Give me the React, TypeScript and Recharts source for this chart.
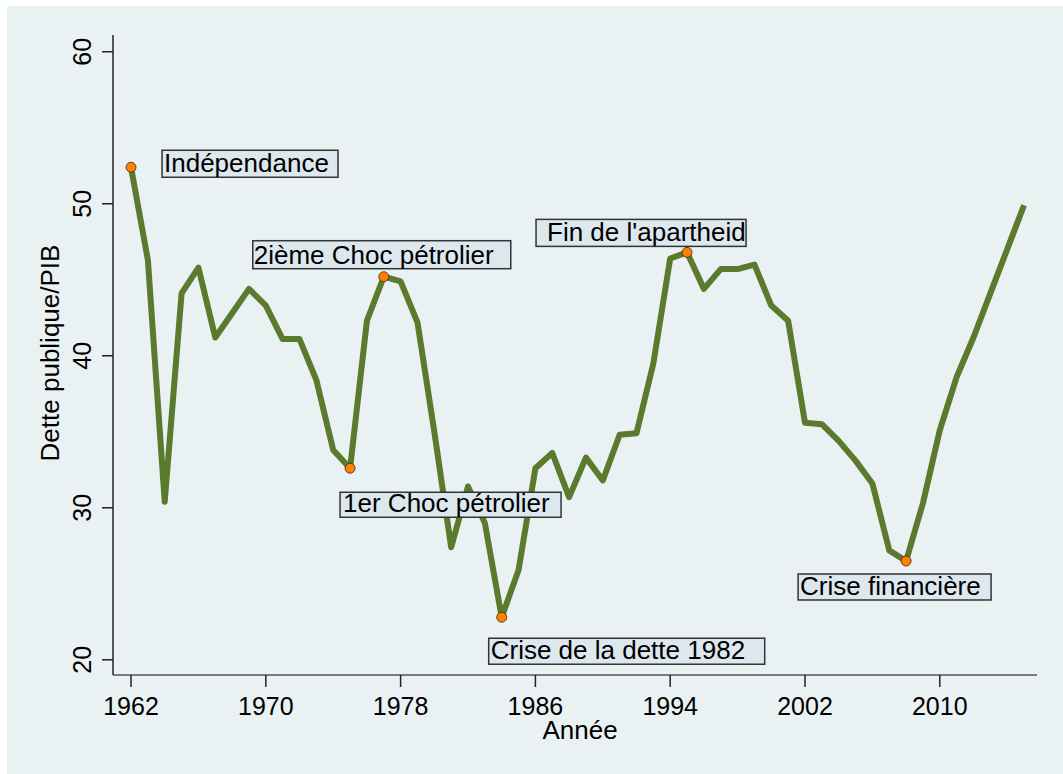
import React from 'react';
import { LineChart, Line, XAxis, YAxis, Label } from 'recharts';

// Dette publique / PIB, 1962-2015
const years = [
  1962, 1963, 1964, 1965, 1966, 1967, 1968, 1969, 1970, 1971,
  1972, 1973, 1974, 1975, 1976, 1977, 1978, 1979, 1980, 1981,
  1982, 1983, 1984, 1985, 1986, 1987, 1988, 1989, 1990, 1991,
  1992, 1993, 1994, 1995, 1996, 1997, 1998, 1999, 2000, 2001,
  2002, 2003, 2004, 2005, 2006, 2007, 2008, 2009, 2010, 2011,
  2012, 2013, 2014, 2015,
];
const debt = [
  52.4, 46.3, 30.4, 44.1, 45.8, 41.2, 42.8, 44.4, 43.3, 41.1,
  41.1, 38.4, 33.8, 32.6, 42.3, 45.2, 44.9, 42.2, 35.0, 27.4,
  31.4, 29.0, 22.8, 25.9, 32.6, 33.6, 30.7, 33.3, 31.8, 34.8,
  34.9, 39.5, 46.4, 46.8, 44.4, 45.7, 45.7, 46.0, 43.3, 42.3,
  35.6, 35.5, 34.4, 33.1, 31.6, 27.2, 26.5, 30.3, 35.1, 38.6,
  41.2, 44.1, 47.0, 49.9,
];
const eventYears = [1962, 1977, 1995, 1975, 1984, 2008];
const eventLabels = [
  'Indépendance',
  '2ième Choc pétrolier',
  "Fin de l'apartheid",
  '1er Choc pétrolier',
  'Crise de la dette 1982',
  'Crise financière',
];
const xTicks = [1962, 1970, 1978, 1986, 1994, 2002, 2010];
const yTicks = [20, 30, 40, 50, 60];

const data = years.map((y, i) => ({ year: y, debt: debt[i] }));

// where each label box sits relative to its marker
const boxLayout: Record<number, { dx: number; dy: number; w: number; h: number; tx: number }> = {
  1962: { dx: 31, dy: -17, w: 176, h: 27, tx: 2 },
  1977: { dx: -131, dy: -36, w: 258, h: 28, tx: 1 },
  1995: { dx: -151, dy: -33, w: 210, h: 27, tx: 11 },
  1975: { dx: -10, dy: 24, w: 221, h: 25, tx: 3 },
  1984: { dx: -13, dy: 21, w: 276, h: 26, tx: 2 },
  2008: { dx: -108, dy: 13, w: 193, h: 26, tx: 2 },
};

const FONT = '"Liberation Sans", Arial, Helvetica, sans-serif';
const BG = '#e9f1f3';
const GREEN = '#5a7a2e';

const EventDot = (props: any) => {
  const { cx, cy, payload, index } = props;
  const k = eventYears.indexOf(payload.year);
  if (k < 0) return <g key={'d' + index} />;
  const b = boxLayout[payload.year];
  const bx = cx + b.dx;
  const by = cy + b.dy;
  return (
    <g key={'d' + index}>
      <circle cx={cx} cy={cy} r={5} fill="#ff7f00" stroke="#3a2a10" strokeWidth={0.8} />
      <rect x={bx} y={by} width={b.w} height={b.h} fill="#dce7ee" stroke="#333" strokeWidth={1.5} />
      <text x={bx + b.tx} y={by + b.h - 5} fontSize={26} fontFamily={FONT} fill="#000">
        {eventLabels[k]}
      </text>
    </g>
  );
};

const XTick = (props: any) => (
  <text x={props.x} y={715} textAnchor="middle" fontSize={25} fontFamily={FONT} fill="#000">
    {props.payload.value}
  </text>
);

const YTick = (props: any) => (
  <text
    x={91}
    y={props.y}
    textAnchor="middle"
    fontSize={25}
    fontFamily={FONT}
    fill="#000"
    transform={`rotate(-90, 91, ${props.y})`}
  >
    {props.payload.value}
  </text>
);

export default function App() {
  return (
    <div style={{ position: 'absolute', left: 0, top: 0, width: 1063, height: 774, background: '#fff' }}>
      <div style={{ position: 'absolute', left: 7, top: 6, width: 1056, height: 768, background: BG }} />
      <div style={{ position: 'absolute', left: 0, top: 0 }}>
        <LineChart width={1063} height={774} data={data} margin={{ top: 35, right: 26, left: 0, bottom: 0 }}>
          <XAxis
            dataKey="year"
            type="number"
            domain={[1960.93, 2015.77]}
            ticks={xTicks}
            height={99}
            tickSize={12}
            axisLine={{ stroke: '#555', strokeWidth: 1.5 }}
            tickLine={{ stroke: '#222', strokeWidth: 1.5 }}
            tick={<XTick />}
            allowDataOverflow
          >
            <Label
              content={() => (
                <text x={580} y={739} textAnchor="middle" fontSize={26} fontFamily={FONT} fill="#000">
                  Année
                </text>
              )}
            />
          </XAxis>
          <YAxis
            type="number"
            domain={[19.0, 61.1]}
            ticks={yTicks}
            width={113}
            tickSize={11}
            axisLine={{ stroke: '#222', strokeWidth: 1.5 }}
            tickLine={{ stroke: '#222', strokeWidth: 1.5 }}
            tick={<YTick />}
            allowDataOverflow
          >
            <Label
              content={() => (
                <text
                  x={59}
                  y={353}
                  textAnchor="middle"
                  fontSize={26}
                  fontFamily={FONT}
                  fill="#000"
                  transform="rotate(-90, 59, 353)"
                >
                  Dette publique/PIB
                </text>
              )}
            />
          </YAxis>
          <Line
            type="linear"
            dataKey="debt"
            stroke={GREEN}
            strokeWidth={6}
            strokeLinejoin="round"
            dot={EventDot}
            activeDot={false}
            isAnimationActive={false}
          />
        </LineChart>
      </div>
    </div>
  );
}
